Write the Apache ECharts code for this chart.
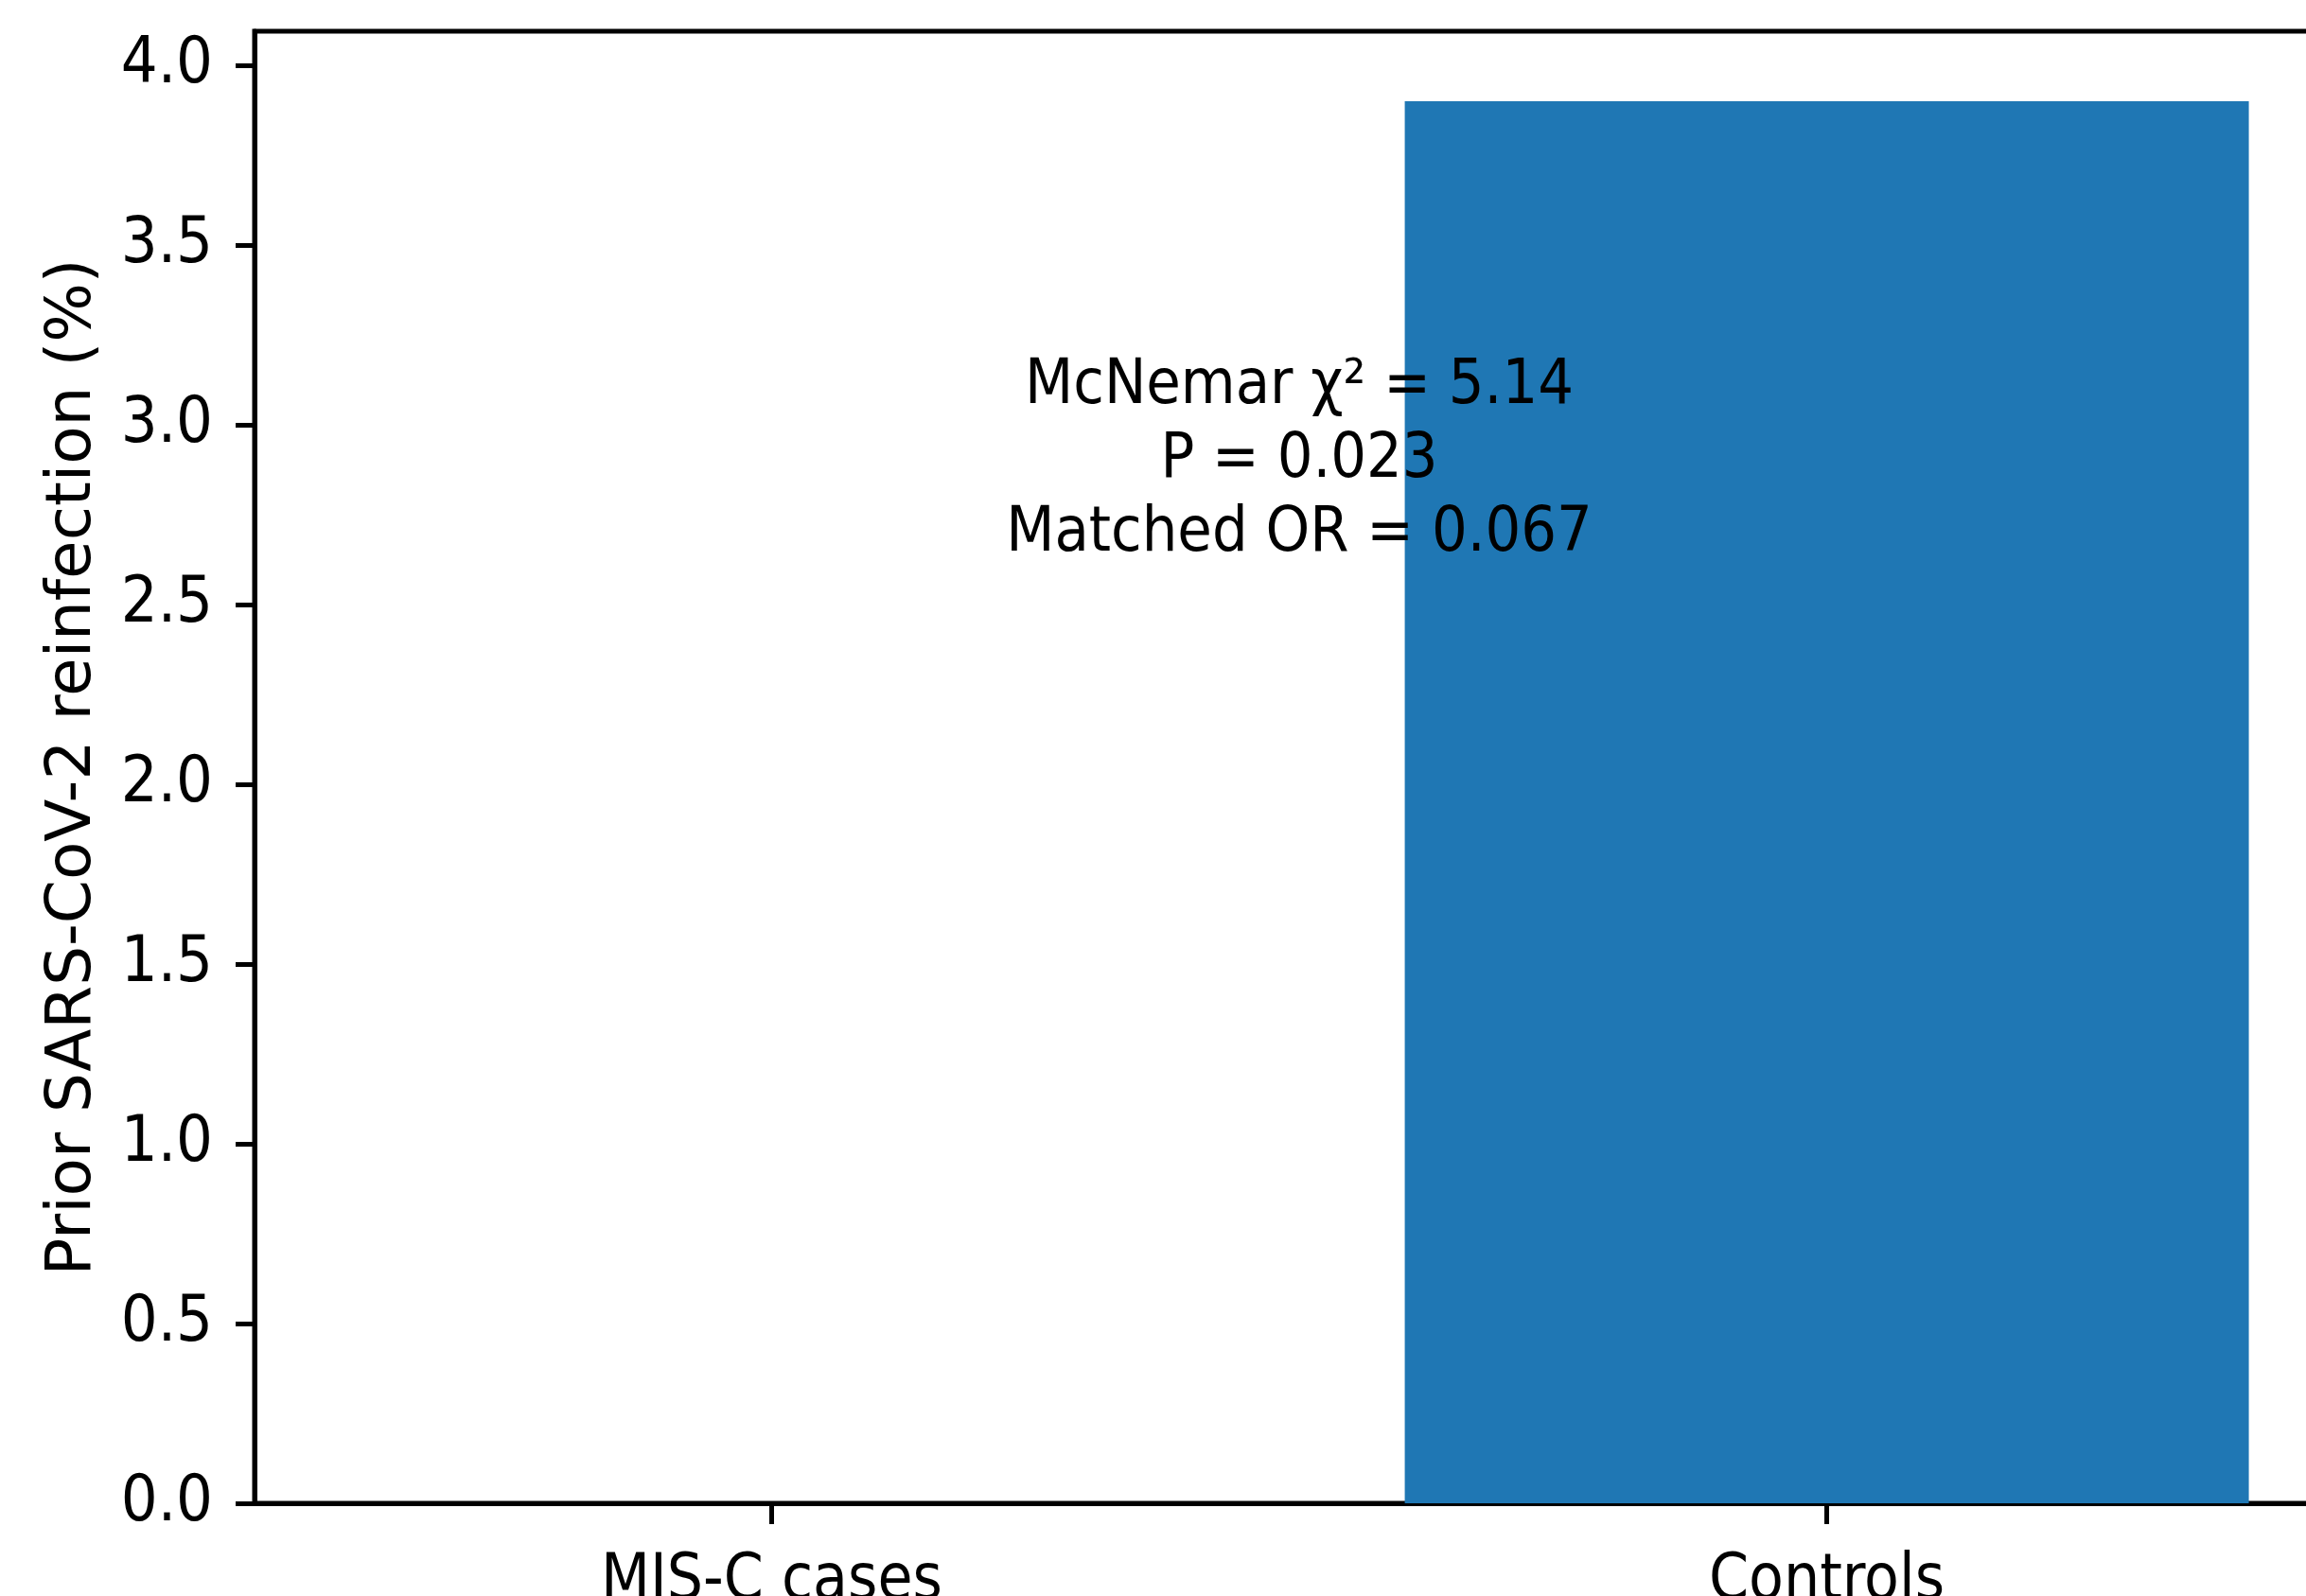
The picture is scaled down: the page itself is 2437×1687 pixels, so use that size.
<!DOCTYPE html>
<html>
<head>
<meta charset="utf-8">
<script src="https://cdn.jsdelivr.net/npm/echarts@6/dist/echarts.min.js"></script>
<style>
  html, body { margin: 0; padding: 0; background: #ffffff; overflow: hidden; }
  /* the plot frame runs past the right edge of the window */
  #chart { width: 2477px; height: 1687px; }
</style>
</head>
<body>
<div id="chart"></div>
<script>
// Groups and reinfection percentages
const categories = ['MIS-C cases', 'Controls'];
const reinfectionPct = [0, 3.9];

// Y-axis tick values
const yTicks = [0, 0.5, 1.0, 1.5, 2.0, 2.5, 3.0, 3.5, 4.0];

// Statistical annotation text
const statLines = ['McNemar \u03c7\u00b2 = 5.14', 'P = 0.023', 'Matched OR = 0.067'];

const textFont = 'DejaVu Sans Condensed';
const chart = echarts.init(document.getElementById('chart'), null, { renderer: 'canvas' });

const barData = reinfectionPct.map((v, i) => [i, v]);

chart.setOption({
  animation: false,
  backgroundColor: '#ffffff',
  grid: {
    left: 269, top: 33, bottom: 98, right: 0,
    outerBoundsMode: 'none',
    containLabel: false,
    show: true, borderColor: '#000000', borderWidth: 5, backgroundColor: 'transparent'
  },
  xAxis: {
    type: 'value',
    min: -0.49, max: 1.49,
    axisLine: { show: true, onZero: false, lineStyle: { color: '#000000', width: 5 } },
    axisTick: { show: true, length: 22, lineStyle: { color: '#000000', width: 5 }, customValues: [0, 1] },
    axisLabel: {
      customValues: [0, 1],
      formatter: v => categories[Math.round(v)],
      color: '#000000', fontFamily: textFont, fontSize: 67, margin: 50
    },
    splitLine: { show: false }
  },
  yAxis: {
    type: 'value',
    min: 0, max: 4.095,
    name: 'Prior SARS-CoV-2 reinfection (%)',
    nameLocation: 'middle',
    nameGap: 158,
    nameTextStyle: { color: '#000000', fontFamily: 'DejaVu Sans', fontSize: 66 },
    axisLine: { show: true, onZero: false, lineStyle: { color: '#000000', width: 5 } },
    axisTick: { show: true, length: 20, lineStyle: { color: '#000000', width: 5 }, customValues: yTicks },
    axisLabel: {
      customValues: yTicks,
      formatter: v => v.toFixed(1),
      color: '#000000', fontFamily: textFont, fontSize: 68, margin: 44
    },
    splitLine: { show: false }
  },
  series: [
    {
      type: 'bar',
      data: barData,
      barWidth: 892,
      itemStyle: { color: '#1f77b4' }
    },
    {
      type: 'scatter',
      data: [[0.5, 2.9]],
      symbolSize: 0,
      silent: true,
      itemStyle: { opacity: 1 },
      label: {
        show: true,
        position: 'inside',
        formatter: statLines.join('\n'),
        color: '#000000',
        opacity: 1,
        fontFamily: textFont,
        fontSize: 66,
        lineHeight: 78,
        align: 'center',
        verticalAlign: 'middle'
      }
    }
  ]
});
</script>
</body>
</html>
